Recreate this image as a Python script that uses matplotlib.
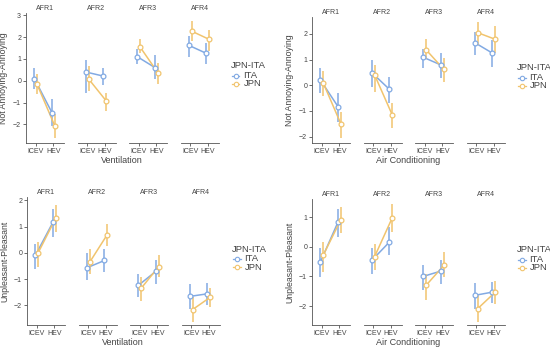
import matplotlib.pyplot as plt
from matplotlib.lines import Line2D

plt.rcParams['font.family'] = ['Liberation Sans', 'DejaVu Sans']

# facets / levels
afr = ['AFR1', 'AFR2', 'AFR3', 'AFR4']
engine = ['ICEV', 'HEV']

# values ordered AFR1 ICEV, AFR1 HEV, AFR2 ICEV, ... AFR4 HEV
# Ventilation - Not Annoying-Annoying
vent_ann_ita = [0.10, -1.46, 0.40, 0.21, 1.10, 0.60, 1.62, 1.25]
vent_ann_ita_lo = [-0.40, -2.06, -0.55, -0.20, 0.75, 0.06, 1.10, 0.75]
vent_ann_ita_hi = [0.60, -0.85, 0.95, 0.60, 1.43, 1.16, 2.07, 1.74]
vent_ann_jpn = [-0.17, -2.07, 0.08, -0.93, 1.54, 0.37, 2.27, 1.89]
vent_ann_jpn_lo = [-0.62, -2.60, -0.47, -1.38, 1.28, -0.17, 1.81, 1.36]
vent_ann_jpn_hi = [0.30, -1.54, 0.67, -0.58, 1.92, 0.82, 2.73, 2.32]

# Air Conditioning - Not Annoying-Annoying
ac_ann_ita = [0.21, -0.83, 0.49, -0.16, 1.09, 0.79, 1.66, 1.25]
ac_ann_ita_lo = [-0.31, -1.42, -0.08, -0.70, 0.66, 0.27, 1.18, 0.73]
ac_ann_ita_hi = [0.69, -0.31, 0.99, 0.34, 1.40, 1.25, 2.09, 1.77]
ac_ann_jpn = [0.10, -1.50, 0.40, -1.16, 1.38, 0.62, 2.05, 1.79]
ac_ann_jpn_lo = [-0.42, -2.04, -0.25, -1.68, 1.01, 0.14, 1.57, 1.25]
ac_ann_jpn_hi = [0.57, -1.03, 0.80, -0.68, 1.80, 1.05, 2.48, 2.29]

# Ventilation - Unpleasant-Pleasant
vent_ple_ita = [-0.10, 1.17, -0.57, -0.29, -1.24, -0.70, -1.66, -1.56]
vent_ple_ita_lo = [-0.61, 0.62, -1.05, -0.74, -1.69, -1.18, -2.13, -2.00]
vent_ple_ita_hi = [0.34, 1.68, -0.01, 0.15, -0.80, -0.27, -1.18, -1.16]
vent_ple_jpn = [0.00, 1.33, -0.36, 0.70, -1.35, -0.52, -2.16, -1.69]
vent_ple_jpn_lo = [-0.55, 0.79, -0.80, 0.28, -1.82, -0.93, -2.64, -2.07]
vent_ple_jpn_hi = [0.40, 1.84, 0.15, 1.10, -0.93, -0.10, -1.69, -1.33]

# Air Conditioning - Unpleasant-Pleasant
ac_ple_ita = [-0.52, 0.83, -0.46, 0.16, -1.00, -0.82, -1.64, -1.53]
ac_ple_ita_lo = [-1.02, 0.33, -0.91, -0.29, -1.47, -1.25, -2.09, -1.90]
ac_ple_ita_hi = [-0.03, 1.28, -0.03, 0.66, -0.63, -0.44, -1.22, -1.19]
ac_ple_jpn = [-0.29, 0.91, -0.33, 0.98, -1.30, -0.63, -2.09, -1.53]
ac_ple_jpn_lo = [-0.85, 0.46, -0.78, 0.49, -1.81, -1.02, -2.54, -1.92]
ac_ple_jpn_hi = [0.16, 1.34, 0.10, 1.45, -0.91, -0.18, -1.64, -1.16]

c_ita = '#82aae3'
c_jpn = '#f1c46e'
txt = '#444444'
ax_col = '#555555'

W, H = 550, 354
fig = plt.figure(figsize=(5.5, 3.54), dpi=100)

blocks = [
    # x0 (px), top (px), bottom (px), ylim, yticks, ylabel, xlabel, data
    (26, 13, 143, (-2.85, 3.1), [-2, -1, 0, 1, 2, 3], 'Not Annoying-Annoying', 'Ventilation',
     (vent_ann_ita, vent_ann_ita_lo, vent_ann_ita_hi, vent_ann_jpn, vent_ann_jpn_lo, vent_ann_jpn_hi)),
    (312, 17, 143, (-2.25, 2.66), [-2, -1, 0, 1, 2], 'Not Annoying-Annoying', 'Air Conditioning',
     (ac_ann_ita, ac_ann_ita_lo, ac_ann_ita_hi, ac_ann_jpn, ac_ann_jpn_lo, ac_ann_jpn_hi)),
    (27, 197, 325, (-2.75, 2.13), [-2, -1, 0, 1, 2], 'Unpleasant-Pleasant', 'Ventilation',
     (vent_ple_ita, vent_ple_ita_lo, vent_ple_ita_hi, vent_ple_jpn, vent_ple_jpn_lo, vent_ple_jpn_hi)),
    (312, 199, 325, (-2.64, 1.61), [-2, -1, 0, 1], 'Unpleasant-Pleasant', 'Air Conditioning',
     (ac_ple_ita, ac_ple_ita_lo, ac_ple_ita_hi, ac_ple_jpn, ac_ple_jpn_lo, ac_ple_jpn_hi)),
]

pitch, pw = 51.5, 38
dodge = 0.08

for x0, top, bot, ylim, yticks, ylabel, xlabel, d in blocks:
    ita, ita_lo, ita_hi, jpn, jpn_lo, jpn_hi = d
    for k, name in enumerate(afr):
        left = x0 + k * pitch
        ax = fig.add_axes([left / W, 1 - bot / H, pw / W, (bot - top) / H])
        sl = slice(2 * k, 2 * k + 2)
        for vals, lo, hi, col, off in [(ita[sl], ita_lo[sl], ita_hi[sl], c_ita, -dodge),
                                       (jpn[sl], jpn_lo[sl], jpn_hi[sl], c_jpn, dodge)]:
            xs = [i + off for i in range(2)]
            ax.plot(xs, vals, color=col, lw=1.1, zorder=2)
            ax.vlines(xs, lo, hi, color=col, lw=1.1, zorder=2)
            ax.scatter(xs, vals, s=12, facecolor='white', edgecolor=col, lw=0.9, zorder=3)
        ax.set_xlim(-0.55, 1.6)
        ax.set_ylim(*ylim)
        ax.set_xticks(range(2))
        ax.set_xticklabels(engine)
        ax.tick_params(axis='x', labelsize=5, colors=ax_col, length=2, width=0.6, pad=1.5)
        ax.tick_params(axis='x', labelcolor=txt)
        for s in ['top', 'right']:
            ax.spines[s].set_visible(False)
        ax.spines['bottom'].set_color(ax_col)
        ax.spines['bottom'].set_linewidth(0.6)
        if k == 0:
            ax.set_yticks(yticks)
            ax.tick_params(axis='y', labelsize=5, colors=ax_col, length=2, width=0.6, pad=1.5,
                           labelcolor=txt)
            ax.spines['left'].set_color(ax_col)
            ax.spines['left'].set_linewidth(0.6)
            ax.set_ylabel(ylabel, fontsize=6.3, color=txt)
            ax.yaxis.set_label_coords(-18 / pw, 0.5)
        else:
            ax.spines['left'].set_visible(False)
            ax.set_yticks([])
        ax.set_title(name, fontsize=5, color=txt, pad=2)
        ax.patch.set_alpha(0)

    # shared x label and legend for the block
    xmid = (x0 + 3 * pitch + pw + x0) / 2
    fig.text(xmid / W, 1 - (bot + 20) / H, xlabel, fontsize=6.5, color=txt, ha='center')
    lx = x0 + 3 * pitch + pw + 12
    ly = (top + bot) / 2 - 12
    fig.text(lx / W, 1 - ly / H, 'JPN-ITA', fontsize=6.8, color=txt, va='center')
    for j, (lab, col) in enumerate([('ITA', c_ita), ('JPN', c_jpn)]):
        yy = 1 - (ly + 9.5 + j * 8.5) / H
        fig.add_artist(Line2D([(lx + 1) / W, (lx + 9) / W], [yy, yy], color=col, lw=0.9))
        fig.add_artist(Line2D([(lx + 5) / W], [yy], color=col, marker='o', markersize=3.2,
                              markerfacecolor='white', markeredgewidth=0.8, lw=0))
        fig.text((lx + 13) / W, yy, lab, fontsize=6.8, color=txt, va='center')

fig.savefig('out.png', dpi=100, facecolor='white')
